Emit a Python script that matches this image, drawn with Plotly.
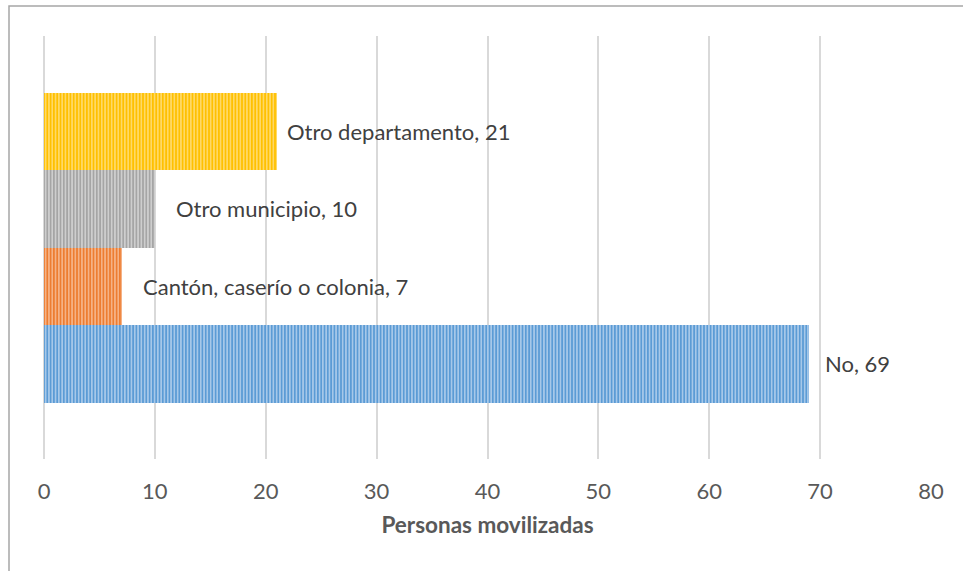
import plotly.graph_objects as go

categories = ["No", "Cantón, caserío o colonia", "Otro municipio", "Otro departamento"]
values = [69, 7, 10, 21]
main_colors = ["#5B9BD5", "#ED7D31", "#A5A5A5", "#FFC000"]
light_colors = ["#B9D4EF", "#F7C09B", "#D9D9D9", "#FFE080"]
label_offsets = [14, 19, 19, 8]
x_ticks = [0, 10, 20, 30, 40, 50, 60, 70, 80]
x_title = "Personas movilizadas"

FONT = "Lato"
TXT = "#404040"
TICK = "#595959"

fig = go.Figure()
for c, v, mc, lc in zip(categories, values, main_colors, light_colors):
    fig.add_trace(go.Bar(
        y=[c], x=[v], orientation="h", name=c,
        marker=dict(
            color=mc,
            line=dict(width=0),
            pattern=dict(shape="|", fgcolor=lc, bgcolor=mc,
                         size=3.3, solidity=0.4, fillmode="replace"),
        ),
        hoverinfo="skip",
    ))

for c, v, off in zip(categories, values, label_offsets):
    fig.add_annotation(x=v, y=c, text=f"{c}, {v}", showarrow=False,
                       xanchor="left", yanchor="middle", xshift=off,
                       font=dict(family=FONT, size=22, color=TXT))

n = len(categories)
span = 423 / (310 / n)
mid = (n - 1) / 2

fig.update_layout(
    width=963, height=571,
    margin=dict(l=44, r=32, t=36, b=112),
    paper_bgcolor="white", plot_bgcolor="white",
    barmode="overlay", bargap=0,
    showlegend=False,
    xaxis=dict(
        range=[0, 80], tickvals=x_ticks, showgrid=True,
        gridcolor="#D9D9D9", gridwidth=1.5,
        zeroline=True, zerolinecolor="#D9D9D9", zerolinewidth=1.5,
        showline=False, ticks="", ticklabelstandoff=17,
        tickfont=dict(family=FONT, size=22, color=TICK),
        title=dict(text=f"<b>{x_title}</b>", standoff=14,
                   font=dict(family=FONT, size=22.5, color=TICK)),
    ),
    yaxis=dict(
        type="category", categoryorder="array", categoryarray=categories,
        range=[mid - span / 2, mid + span / 2],
        showticklabels=False, showgrid=False, zeroline=False, showline=False,
    ),
    shapes=[dict(type="rect", xref="paper", yref="paper",
                 x0=(9 - 44) / 887, x1=2, y0=-2, y1=1 + 30 / 423,
                 line=dict(color="#A6A6A6", width=1.5), fillcolor="rgba(0,0,0,0)",
                 layer="below")],
)

fig.write_html("out.html", config={"displayModeBar": False},
               post_script="document.body.style.margin='0px';")
